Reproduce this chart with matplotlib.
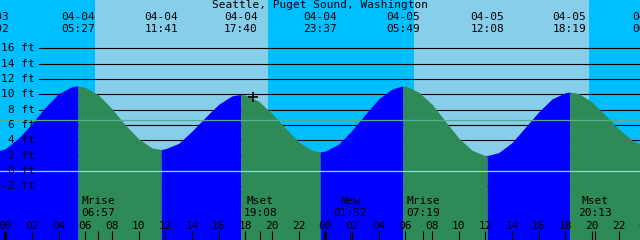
import matplotlib
matplotlib.use("Agg")
import matplotlib.pyplot as plt
from matplotlib.transforms import blended_transform_factory

# tide height, hours from 04-04 00:00
hours = list(range(-1, 49))
heights = [2.4, 2.9, 4.3, 6.2, 8.3, 10.1, 11.0, 10.9, 9.9, 8.1,
           6.0, 4.2, 3.0, 2.9, 3.6, 5.2, 7.0, 8.7, 9.8, 9.9,
           9.1, 7.5, 5.6, 3.8, 2.7, 2.6, 3.5, 5.3, 7.4, 9.4,
           10.7, 11.1, 10.3, 8.7, 6.5, 4.3, 2.7, 2.0, 2.4, 3.7,
           5.7, 7.7, 9.4, 10.2, 10.1, 9.0, 7.3, 5.5, 4.0, 3.2]

# high / low tide events
tide_dates = ["04-03", "04-04", "04-04", "04-04", "04-04", "04-05", "04-05", "04-05", "04-06"]
tide_times = ["23:02", "05:27", "11:41", "17:40", "23:37", "05:49", "12:08", "18:19", "00:18"]
tide_levels = [2.4, 11.1, 2.8, 10.0, 2.5, 11.1, 2.0, 10.3, 3.2]

# moon events
moon_names = ["Mrise", "Mset", "New", "Mrise", "Mset"]
moon_dates = ["04-04", "04-04", "04-05", "04-05", "04-05"]
moon_times = ["06:57", "19:08", "01:52", "07:19", "20:13"]

# daylight
sunrise = [("04-04", "06:43"), ("04-05", "06:41")]
sunset = [("04-04", "19:44"), ("04-05", "19:46")]

mark_time = ("04-04", "18:35")
mark_level = 9.6

ft_levels = [-2, 0, 2, 4, 6, 8, 10, 12, 14, 16]
msl = 6.6
title = "Seattle, Puget Sound, Washington"

day_offset = {"04-03": -24, "04-04": 0, "04-05": 24, "04-06": 48}


def to_hours(date, hm):
    h, m = hm.split(":")
    return day_offset[date] + int(h) + int(m) / 60.0


NIGHT = "#00BFFF"
DAY = "#87CEEB"
RISE = "#0000FF"
FALL = "#2E8B57"
FONT = dict(family="DejaVu Sans Mono", fontsize=8.0, color="black")

fig = plt.figure(figsize=(6.4, 2.4), dpi=100)
ax = fig.add_axes([0, 0, 1, 1])
x0, x1 = -0.4, 47.6
y0, y1 = -9.0, 22.3
ax.set_xlim(x0, x1)
ax.set_ylim(y0, y1)
ax.axis("off")
trans = blended_transform_factory(ax.transData, ax.transAxes)


def py(y):
    return 1 - y / 240.0


# background
ax.axvspan(x0, x1, color=NIGHT, zorder=0, lw=0)
for (d1, t1), (d2, t2) in zip(sunrise, sunset):
    ax.axvspan(to_hours(d1, t1), to_hours(d2, t2), color=DAY, zorder=0.5, lw=0)

# grid lines
for lv in ft_levels:
    ax.axhline(lv, xmin=39 / 640, xmax=1, color="black", lw=0.8, zorder=1)

# tide fill
ev_t = [to_hours(d, t) for d, t in zip(tide_dates, tide_times)]
pts = sorted(list(zip(hours, heights)) + list(zip(ev_t, tide_levels)))
for i in range(len(ev_t) - 1):
    ta, tb = ev_t[i], ev_t[i + 1]
    seg = [p for p in pts if ta <= p[0] <= tb]
    xs = [p[0] for p in seg]
    ys = [p[1] for p in seg]
    col = RISE if tide_levels[i + 1] > tide_levels[i] else FALL
    ax.fill_between(xs, ys, y0, color=col, lw=0, zorder=2)

# datum and mean sea level lines
ax.axhline(0, color="#80E0E0", lw=0.9, zorder=3)
ax.axhline(msl, color="#4FAF8F", lw=0.9, zorder=3)

# y labels
for lv in ft_levels:
    ax.text(35 / 640, lv, f"{lv} ft", ha="right", va="center",
            transform=blended_transform_factory(ax.transAxes, ax.transData),
            zorder=5, **FONT)

# title and tide event labels
ax.text(0.5, py(5.5), title, ha="center", va="center", transform=ax.transAxes, zorder=5, **FONT)
for t, d, hm in zip(ev_t, tide_dates, tide_times):
    ax.text(t, py(17), d, ha="center", va="center", transform=trans, zorder=5, **FONT)
    ax.text(t, py(29.5), hm, ha="center", va="center", transform=trans, zorder=5, **FONT)

# moon labels
moon_t = [to_hours(d, t) for d, t in zip(moon_dates, moon_times)]
for t, name, hm in zip(moon_t, moon_names, moon_times):
    ax.text(t, py(201.5), name, ha="center", va="center", transform=trans, zorder=5, **FONT)
    ax.text(t, py(212.7), hm, ha="center", va="center", transform=trans, zorder=5, **FONT)

# hour labels and ticks
for h in range(0, 49, 2):
    ax.text(h, py(225.7), f"{h % 24:02d}", ha="center", va="center", transform=trans, zorder=5, **FONT)
    lw = 2.2 if h % 24 == 0 else 0.8
    ax.vlines(h, 0, 9 / 240, color="black", lw=lw, transform=trans, zorder=5)
ax.vlines(moon_t, 0, 9 / 240, color="black", lw=0.8, transform=trans, zorder=5)

# cursor mark
ax.plot([to_hours(*mark_time)], [mark_level], marker="+", color="black",
        markersize=7.5, mew=1.2, zorder=6)

fig.savefig("out.png", dpi=100)
